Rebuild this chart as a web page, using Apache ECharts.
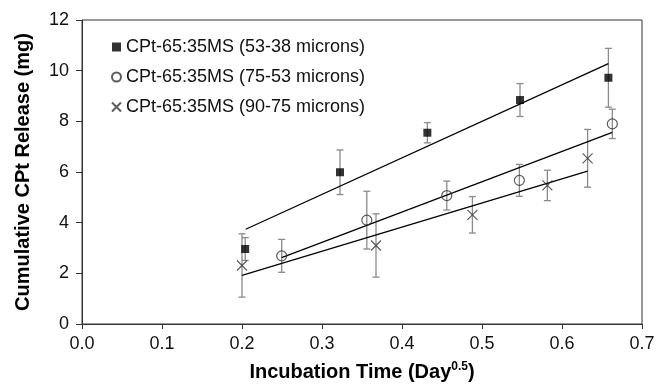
<!DOCTYPE html>
<html><head><meta charset="utf-8">
<script src="https://cdn.jsdelivr.net/npm/echarts@6/dist/echarts.min.js"></script>
<style>html,body{margin:0;padding:0;background:#fff}#c{width:666px;height:387px}</style>
</head><body><div id="c"></div>
<script>
// Data
const seriesNames = ['CPt-65:35MS (53-38 microns)', 'CPt-65:35MS (75-53 microns)', 'CPt-65:35MS (90-75 microns)'];
const xA = [0.204, 0.3225, 0.4317, 0.5475, 0.658];
const yA = [2.96, 5.99, 7.55, 8.84, 9.72];
const eA = [0.45, 0.88, 0.40, 0.65, 1.16];
const xB = [0.2496, 0.356, 0.456, 0.5467, 0.6629];
const yB = [2.69, 4.10, 5.07, 5.67, 7.90];
const eB = [0.65, 1.14, 0.57, 0.63, 0.58];
const xC = [0.2, 0.3675, 0.488, 0.5817, 0.632];
const yC = [2.31, 3.10, 4.31, 5.47, 6.54];
const eC = [1.25, 1.25, 0.72, 0.60, 1.14];
// linear fit endpoints [x, y]
const fitA = [[0.2046, 3.74], [0.658, 10.28]];
const fitB = [[0.2496, 2.62], [0.6629, 7.56]];
const fitC = [[0.2, 1.92], [0.632, 6.03]];
const xTicks = [0, 0.1, 0.2, 0.3, 0.4, 0.5, 0.6, 0.7];
const yTicks = [0, 2, 4, 6, 8, 10, 12];

const FONT = 'Liberation Sans, Arial, sans-serif';
const pts = (xs, ys) => xs.map((x, i) => [x, ys[i]]);
const errData = (xs, ys, es) => xs.map((x, i) => [x, ys[i] - es[i], ys[i] + es[i]]);

function errSeries(xs, ys, es) {
  return {
    type: 'custom', silent: true, z: 1,
    data: errData(xs, ys, es),
    renderItem: function (params, api) {
      const lo = api.coord([api.value(0), api.value(1)]);
      const hi = api.coord([api.value(0), api.value(2)]);
      const w = 3.5;
      const st = { stroke: '#8a8a8a', lineWidth: 1.3 };
      return { type: 'group', children: [
        { type: 'line', shape: { x1: lo[0], y1: lo[1], x2: hi[0], y2: hi[1] }, style: st },
        { type: 'line', shape: { x1: lo[0] - w, y1: lo[1], x2: lo[0] + w, y2: lo[1] }, style: st },
        { type: 'line', shape: { x1: hi[0] - w, y1: hi[1], x2: hi[0] + w, y2: hi[1] }, style: st }
      ]};
    }
  };
}
function fitSeries(d) {
  return { type: 'line', data: d, symbol: 'none', silent: true, z: 2,
    lineStyle: { color: '#000', width: 1.3 } };
}

const chart = echarts.init(document.getElementById('c'), null, { renderer: 'canvas' });
chart.setOption({
  animation: false,
  backgroundColor: '#fff',
  grid: { left: 82, right: 24, top: 20, bottom: 63, show: true, borderColor: '#333', borderWidth: 1 },
  legend: {
    orient: 'vertical', left: 106, top: 32, itemGap: 10,
    itemWidth: 9, itemHeight: 9,
    textStyle: { fontFamily: FONT, fontSize: 18, color: '#111', lineHeight: 20 },
    data: seriesNames
  },
  xAxis: {
    type: 'value', min: 0, max: 0.7, interval: 0.1,
    name: 'Incubation Time (Day{sup|0.5})', nameLocation: 'middle', nameGap: 37,
    nameTextStyle: { fontFamily: FONT, fontSize: 20, fontWeight: 'bold', color: '#000',
      rich: { sup: { fontFamily: FONT, fontSize: 12, fontWeight: 'bold', verticalAlign: 'top', padding: [0, 0, 10, 0], color: '#000' } } },
    axisLine: { lineStyle: { color: '#333' } },
    axisTick: { inside: false, length: 5, lineStyle: { color: '#333' } },
    axisLabel: { fontFamily: FONT, fontSize: 18, color: '#111', margin: 11,
      formatter: v => v.toFixed(1) },
    splitLine: { show: false }
  },
  yAxis: {
    type: 'value', min: 0, max: 12, interval: 2,
    name: 'Cumulative CPt Release (mg)', nameLocation: 'middle', nameGap: 49,
    nameTextStyle: { fontFamily: FONT, fontSize: 20, fontWeight: 'bold', color: '#000' },
    axisLine: { show: true, lineStyle: { color: '#333' } },
    axisTick: { show: true, length: 6, lineStyle: { color: '#333' } },
    axisLabel: { fontFamily: FONT, fontSize: 18, color: '#111', margin: 13 },
    splitLine: { show: false }
  },
  series: [
    errSeries(xA, yA, eA), errSeries(xB, yB, eB), errSeries(xC, yC, eC),
    fitSeries(fitA), fitSeries(fitB), fitSeries(fitC),
    { name: seriesNames[0], type: 'scatter', z: 3, data: pts(xA, yA), symbol: 'rect', symbolSize: 8,
      itemStyle: { color: '#000', borderColor: '#000', borderWidth: 0 } },
    { name: seriesNames[1], type: 'scatter', z: 3, data: pts(xB, yB), symbol: 'circle', symbolSize: 10,
      itemStyle: { color: 'rgba(255,255,255,0)', borderColor: '#333', borderWidth: 1.2 } },
    { name: seriesNames[2], type: 'scatter', z: 3, data: pts(xC, yC), symbol: 'path://M0,0L10,10M10,0L0,10', symbolSize: 10,
      itemStyle: { color: 'rgba(255,255,255,0)', borderColor: '#333', borderWidth: 1.2 } }
  ]
});
</script></body></html>
